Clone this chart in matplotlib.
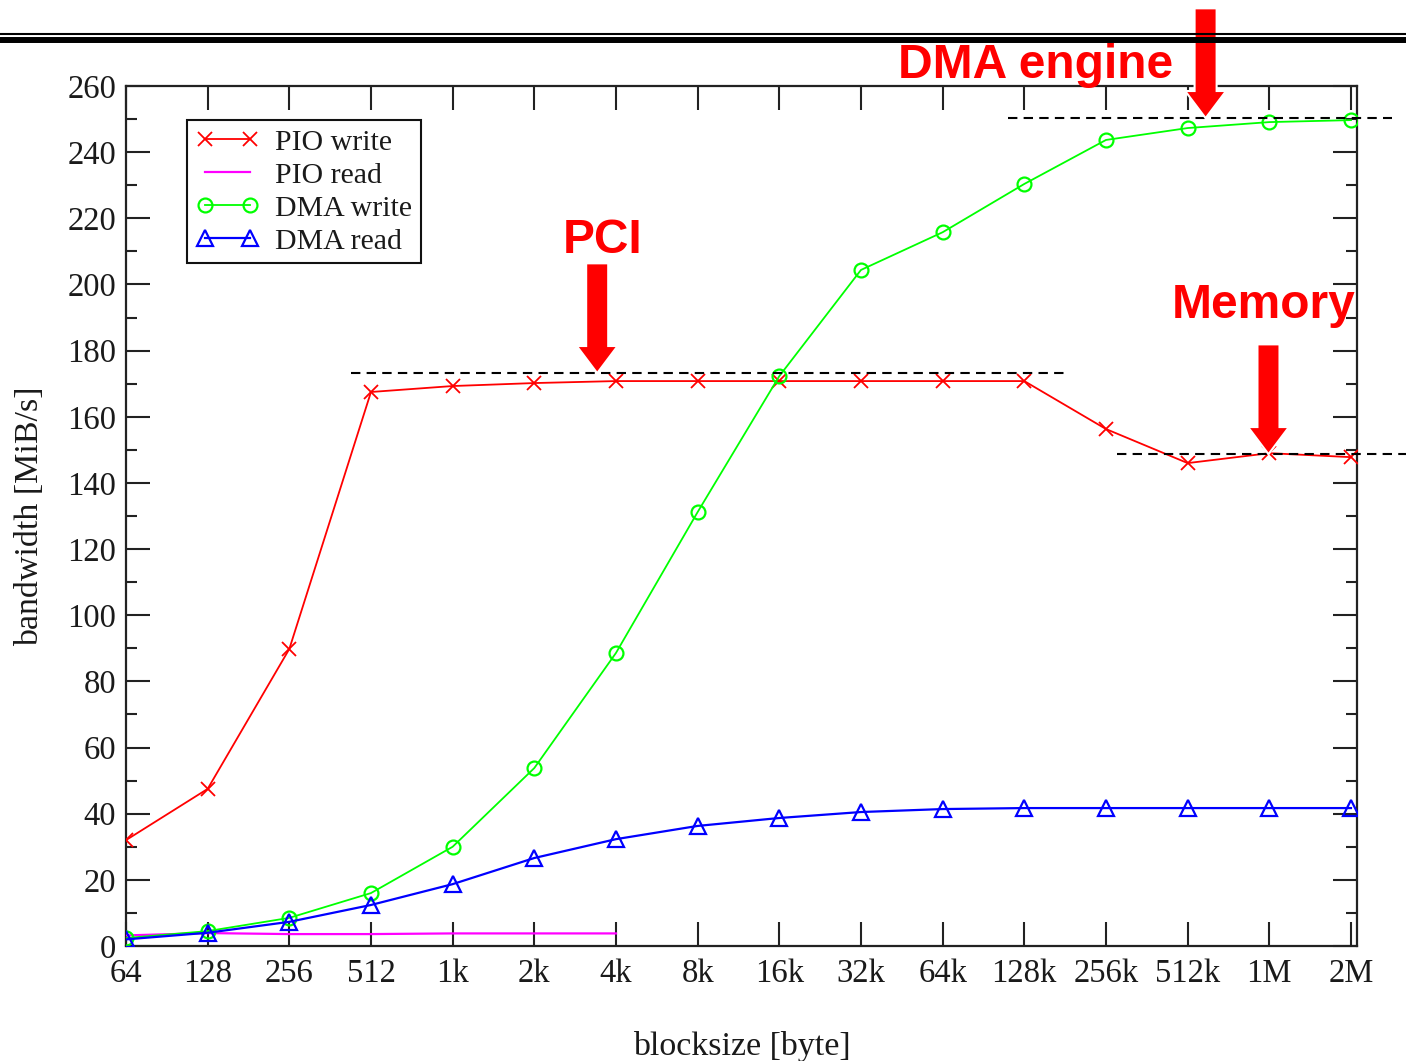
import matplotlib
matplotlib.use("Agg")
import matplotlib.pyplot as plt
from matplotlib.lines import Line2D
from matplotlib.patches import FancyArrow

# x categories (block sizes)
blocksizes = ["64", "128", "256", "512", "1k", "2k", "4k", "8k",
              "16k", "32k", "64k", "128k", "256k", "512k", "1M", "2M"]

pio_write = [32, 47.5, 89.8, 167.5, 169.3, 170.2, 170.8, 170.8,
             170.8, 170.8, 170.8, 170.8, 156.3, 146.0, 149.0, 147.8]
pio_read = [3.2, 3.9, 3.6, 3.6, 3.8, 3.8, 3.8]
dma_write = [2.4, 4.5, 8.5, 16.0, 30.0, 53.8, 88.6, 131.2,
             172.3, 204.4, 215.8, 230.4, 243.7, 247.3, 249.1, 249.7]
dma_read = [2.0, 4.0, 7.3, 12.4, 18.7, 26.6, 32.3, 36.3,
            38.7, 40.5, 41.4, 41.7, 41.7, 41.7, 41.7, 41.7]

# annotations: label, limit level, dashed line span (x from, x to), arrow x
limits = [
    ("PCI", 173.2, 2.75, 11.5, 5.77),
    ("DMA engine", 250.3, 10.8, 15.5, 13.22),
    ("Memory", 148.7, 12.14, 15.7, 13.99),
]
label_pos = {"PCI": (5.35, 209.5), "DMA engine": (9.45, 262.4), "Memory": (12.81, 189.9)}

serif = ["Liberation Serif", "DejaVu Serif"]
sans = ["Liberation Sans", "DejaVu Sans"]
txt_col = "#1a1a1a"

fig = plt.figure(figsize=(14.06, 10.61), dpi=100)
ax = fig.add_axes([0.0896, 0.1084, 0.8755, 0.8105])

x = list(range(len(blocksizes)))
ax.plot(x, pio_write, color="#ff0000", lw=1.3, marker="x", ms=10, mew=1.3,
        label="PIO write", zorder=3)
ax.plot(x[:len(pio_read)], pio_read, color="#ff00ff", lw=1.6,
        label="PIO read", zorder=3)
ax.plot(x, dma_write, color="#00ff00", lw=1.3, marker="o", ms=10, mew=1.6,
        mfc="none", label="DMA write", zorder=3)
ax.plot(x, dma_read, color="#0000ff", lw=1.6, marker="^", ms=11, mew=1.6,
        mfc="none", label="DMA read", zorder=3)

ax.set_xlim(0, 15.073)
ax.set_ylim(0, 260)
ax.set_xticks(x)
ax.set_xticklabels(blocksizes)
ax.set_yticks(range(0, 261, 20))
ax.set_yticks(range(10, 260, 20), minor=True)

ax.tick_params(which="both", direction="in", top=True, right=True,
               width=1.5, color="#222222", labelcolor=txt_col)
ax.tick_params(which="major", length=17.5)
ax.tick_params(which="minor", length=8)
ax.tick_params(axis="x", pad=9)
ax.tick_params(axis="y", pad=7)
for lab in ax.get_xticklabels() + ax.get_yticklabels():
    lab.set_family(serif)
    lab.set_fontsize(23.5)
for sp in ax.spines.values():
    sp.set_linewidth(1.6)
    sp.set_color("#222222")

ax.set_xlabel("blocksize [byte]", family=serif, fontsize=24.5, color=txt_col, labelpad=30)
ax.set_ylabel("bandwidth [MiB/s]", family=serif, fontsize=24.5, color=txt_col, labelpad=16)

leg = ax.legend(loc="upper left", bbox_to_anchor=(0.0496, 0.9605), borderaxespad=0,
                numpoints=2, handlelength=2.1, handletextpad=0.55, labelspacing=0.2,
                borderpad=0.3, fancybox=False, framealpha=1,
                prop={"family": serif, "size": 21.5})
leg.get_frame().set_edgecolor("#111111")
leg.get_frame().set_linewidth(1.5)
for t in leg.get_texts():
    t.set_color(txt_col)

for name, level, x0, x1, xa in limits:
    ax.plot([x0, x1], [level, level], color="black", lw=1.5, dashes=(4.5, 3),
            clip_on=False, zorder=4)
    arr = FancyArrow(xa, level + 33.2, 0, -33.2, width=0.27, head_width=0.5,
                     head_length=8.2, length_includes_head=True,
                     facecolor="#ff0000", edgecolor="white", lw=1.5,
                     transform=ax.transData, clip_on=False, zorder=6)
    ax.add_patch(arr)
    tx, ty = label_pos[name]
    ax.text(tx, ty, name, family=sans, weight="bold", fontsize=34.5,
            color="#ff0000", ha="left", va="baseline", clip_on=False, zorder=6)

# double rule at the top of the slide
fig.add_artist(Line2D([0, 1], [1 - 33.7 / 1061] * 2, transform=fig.transFigure,
                      color="black", lw=1.5, zorder=1))
fig.add_artist(Line2D([0, 1], [1 - 39.7 / 1061] * 2, transform=fig.transFigure,
                      color="black", lw=4.3, zorder=1))

fig.savefig("out.png", dpi=100)
